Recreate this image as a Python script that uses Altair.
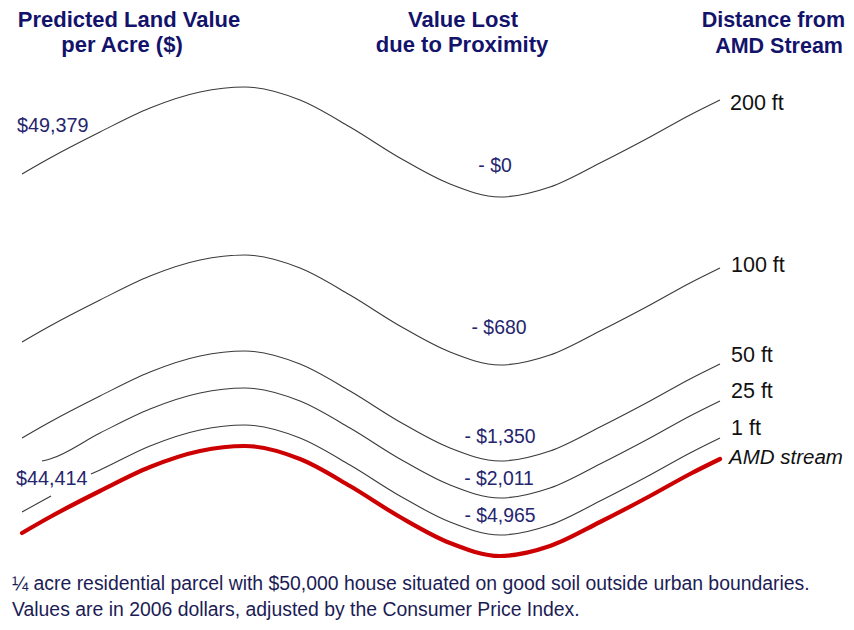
import altair as alt
import pandas as pd

# ---- curve data (in picture units) ----
X_MAIN = [22, 50, 100, 150, 200, 245, 300, 350, 400, 450, 500, 550, 600, 650, 690, 720]
Y_200 = [174, 158, 132, 108, 92, 87, 100, 127, 158, 184, 197, 187, 163, 137, 115, 100]
Y_100 = [342, 326, 300, 276, 260, 255, 268, 295, 326, 352, 365, 355, 331, 305, 283, 268]
Y_50 = [438, 422, 396, 372, 356, 351, 364, 391, 422, 448, 461, 451, 427, 401, 379, 364]
X_25 = [42, 50, 100, 150, 200, 245, 300, 350, 400, 450, 500, 550, 600, 650, 690, 720]
Y_25 = [461, 459, 433, 409, 393, 388, 401, 428, 459, 485, 498, 488, 464, 438, 416, 401]
X_1A = [22, 51]
Y_1A = [512, 496]
X_1B = [91, 100, 150, 200, 245, 300, 350, 400, 450, 500, 550, 600, 650, 690, 720]
Y_1B = [474, 470, 446, 430, 425, 438, 465, 496, 522, 535, 525, 501, 475, 453, 438]
Y_AMD = [533, 517, 491, 467, 451, 446, 459, 486, 517, 543, 556, 546, 522, 496, 474, 459]

# ---- labels ----
HEAD_TEXT = ["Predicted Land Value", "per Acre ($)", "Value Lost", "due to Proximity"]
HEAD_X = [129, 122, 463, 462]
HEAD_Y = [27, 52, 27, 52]

HEADR_TEXT = ["Distance from", "AMD Stream"]
HEADR_X = [845, 843]
HEADR_Y = [27, 53]

VALUE_TEXT = ["$49,379", "$44,414"]
VALUE_X = [17, 16]
VALUE_Y = [132, 485]

LOST_TEXT = ["- $0", "- $680", "- $1,350", "- $2,011", "- $4,965"]
LOST_X = [495, 499, 500, 499, 500]
LOST_Y = [172, 334, 443, 485, 522]

DIST_TEXT = ["200 ft", "100 ft", "50 ft", "25 ft", "1 ft"]
DIST_X = [730, 731, 731, 731, 731]
DIST_Y = [110, 272, 362, 398, 435]

AMD_TEXT = ["AMD stream"]
AMD_X = [729]
AMD_Y = [464]

NOTE_TEXT = ["\u00bc acre residential parcel with $50,000 house situated on good soil outside urban boundaries.",
             "Values are in 2006 dollars, adjusted by the Consumer Price Index."]
NOTE_X = [12, 12]
NOTE_Y = [590, 616]

W, H = 838, 612
FONT = "Liberation Sans"

rows = []
def add(series, xs, ys):
    for a, b in zip(xs, ys):
        rows.append({"series": series, "x": a, "y": b})

add("200 ft", X_MAIN, Y_200)
add("100 ft", X_MAIN, Y_100)
add("50 ft", X_MAIN, Y_50)
add("25 ft", X_25, Y_25)
add("1 ft a", X_1A, Y_1A)
add("1 ft b", X_1B, Y_1B)
thin = pd.DataFrame(rows)
red = pd.DataFrame({"series": "AMD", "x": X_MAIN, "y": Y_AMD})

xs = alt.Scale(domain=[8, 8 + W], nice=False, zero=False)
ys = alt.Scale(domain=[8, 8 + H], reverse=True, nice=False, zero=False)
X = alt.X("x:Q", scale=xs, axis=None)
Y = alt.Y("y:Q", scale=ys, axis=None)

thin_lines = alt.Chart(thin).mark_line(
    color="#3a3a3a", strokeWidth=1.1, interpolate="monotone"
).encode(x=X, y=Y, detail="series:N", order="x:Q")

red_line = alt.Chart(red).mark_line(
    color="#cc0000", strokeWidth=4.2, interpolate="monotone", strokeCap="round"
).encode(x=X, y=Y, order="x:Q")


def text_layer(texts, xs_, ys_, **kw):
    df = pd.DataFrame({"x": xs_, "y": ys_, "label": texts})
    return alt.Chart(df).mark_text(baseline="alphabetic", font=FONT, **kw).encode(
        x=X, y=Y, text="label:N"
    )

heads = text_layer(HEAD_TEXT, HEAD_X, HEAD_Y, align="center", fontSize=22,
                   fontWeight="bold", color="#13136b")
heads_r = text_layer(HEADR_TEXT, HEADR_X, HEADR_Y, align="right", fontSize=21.5,
                     fontWeight="bold", color="#13136b")
values = text_layer(VALUE_TEXT, VALUE_X, VALUE_Y, align="left", fontSize=19.8, color="#25256e")
lost = text_layer(LOST_TEXT, LOST_X, LOST_Y, align="center", fontSize=19.4, color="#25256e")
dist = text_layer(DIST_TEXT, DIST_X, DIST_Y, align="left", fontSize=21.5, color="#111111")
amd = text_layer(AMD_TEXT, AMD_X, AMD_Y, align="left", fontSize=20.5, fontStyle="italic",
                 color="#111111")
notes = text_layer(NOTE_TEXT, NOTE_X, NOTE_Y, align="left", fontSize=19.4, color="#1c1c55")

chart = alt.layer(thin_lines, red_line, heads, heads_r, values, lost, dist, amd, notes).properties(
    width=W, height=H, autosize=alt.AutoSizeParams(type="none"), padding=0,
    background="white"
).configure_view(stroke=None)

chart.save("out.html", embed_options={"renderer": "svg", "actions": False})
